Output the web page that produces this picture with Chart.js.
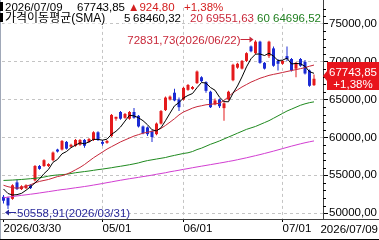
<!DOCTYPE html>
<html><head><meta charset="utf-8">
<script src="https://cdn.jsdelivr.net/npm/chart.js@4/dist/chart.umd.min.js"></script>
<style>html,body{margin:0;padding:0;background:#fff;overflow:hidden}canvas{display:block}</style>
</head><body>
<canvas id="c" width="379" height="240"></canvas>
<script>
// ---- data ----
const opens = [52160,52030,51900,54070,53180,53310,53690,54330,56230,56230,
56230,57000,58400,58400,59410,58780,58900,59030,59670,59410,
59670,60680,59410,59290,60180,62470,63360,62590,62470,63360,
62850,61450,61320,60810,60430,61830,63610,65010,65900,65010,
65010,66280,66410,67170,67940,67300,66030,64370,65010,63870,
65010,67550,69210,69080,70100,72010,71120,72640,69840,70730,
71750,70100,69720,70730,70350,69080,70350,69970,68830,66900];
const highs = [52420,52160,53820,54450,53690,53820,53820,56360,56360,57120,
56610,58140,58520,59670,59540,59160,59790,59790,59790,59920,
60810,60810,59670,59670,63100,62720,63480,63230,63480,63870,
62970,61580,61450,60940,61960,63610,65390,65520,66410,65260,
66660,67050,66790,68830,68060,67430,66150,65140,65140,64630,
66150,69720,69840,70230,71240,72130,72831.73,72770,69970,72770,
72010,70350,70230,72010,70480,69970,70480,70230,68950,68320];
const lows = [51270,50558.91,51780,53050,53050,53180,53180,54200,55720,56100,
56100,56870,58010,58270,58400,58650,58780,58900,58650,59290,
59540,59540,58900,59160,60050,62210,62340,62470,62340,62470,
61320,60430,60180,59410,60300,61700,63480,64880,64760,63480,
64880,66150,66280,67050,67300,65900,63870,64250,63870,62210,
64880,67430,69080,68950,69970,71240,70990,69720,68950,70480,
69330,68830,69590,70100,68700,67940,69330,68300,66700,66790];
const closes = [51650,51020,53690,53180,53560,53690,53310,56230,55850,57000,
56490,58010,58140,59540,58520,59030,59670,59670,58900,59790,
60680,59670,59160,59540,62970,62720,62470,63100,63360,62590,
61450,60560,60430,60050,61830,63480,65260,65390,64880,63990,
66540,66920,66660,68700,67430,66150,63990,64880,64120,64500,
66030,69590,69720,70100,71120,71370,72640,69840,69080,72640,
69460,69720,70100,70350,68830,69840,69460,68440,66819.05,67743.85];
const sma5 = [53200,52600,52400,52450,52620,53028,53486,53994,54528,55216,
55776,56716,57098,57836,58140,58648,58980,59286,59158,59412,
59742,59742,59640,59768,60404,60812,61372,62160,62924,62848,
62594,62212,61678,61016,60864,61270,62210,63202,64168,64600,
65212,65544,65798,66562,67250,67172,66586,66230,65314,64728,
64704,65824,66792,67988,69312,70380,70990,71014,70810,71114,
70732,70148,70200,70454,69692,69768,69716,69384,68678,68460.32];
const sma20 = [53690,53500,53370,53310,53370,53560,53750,54007,54198,54325,
54452,54643,54834,54961,55152,55406,55724,56042,56424,56869,
57314,57696,58077,58459,58780,59090,59410,59670,59920,60180,
60370,60560,60680,60810,60940,61190,61580,62020,62470,62970,
63360,63610,63870,64060,64180,64310,64370,64440,64500,64880,
65390,65900,66280,66660,66980,67300,67550,67810,68000,68190,
68320,68440,68570,68700,68830,68950,69080,69210,69400,69551.63];
const sma60 = [54325,54350,54376,54414,54452,54503,54554,54605,54681,54770,
54897,54986,55050,55088,55139,55241,55342,55419,55495,55571,
55660,55749,55826,55915,56004,56106,56195,56296,56398,56513,
56640,56805,56945,57047,57149,57250,57352,57505,57632,57759,
57886,57975,58141,58395,58586,58840,59095,59311,59540,59794,
60049,60303,60558,60812,61066,61257,61448,61702,61957,62211,
62529,62847,63165,63483,63738,63992,64246,64437,64590,64696.52];
const sma120 = [52035,52124,52201,52277,52353,52430,52506,52582,52671,52760,
52849,52938,53027,53116,53180,53269,53358,53434,53523,53612,
53714,53816,53918,54032,54134,54248,54350,54452,54554,54643,
54732,54834,54923,55024,55139,55241,55342,55470,55571,55673,
55788,55889,56004,56106,56207,56309,56411,56513,56614,56716,
56830,56932,57060,57187,57314,57454,57594,57734,57886,58039,
58192,58357,58522,58688,58853,59006,59158,59298,59426,59540];
const xTickIndex = [0, 22, 40, 62];
const xTickLabels = ['2026/03/30', '05/01', '06/01', '07/01'];
const lastDate = '2026/07/09';
const hiDate = '2026/06/22';
const loDate = '2026/03/31';
const yMajorTicks = [50000, 55000, 60000, 65000, 70000, 75000];
const yMinorTicks = [51000,52000,53000,54000,56000,57000,58000,59000,61000,62000,63000,64000,66000,67000,68000,69000,71000,72000,73000,74000,76000,77000];
const smaTitle = '가격이동평균(SMA)';
const smaPeriods = [5, 20, 60];

// ---- style ----
const FONT = '"Liberation Sans", "Noto Sans CJK KR", "DejaVu Sans", sans-serif';
const FS = 11.5;
const RED = '#e41a1c', BLUE = '#1b2bd4';
const C20 = '#c8283a', C60 = '#1f8a1f', C120 = '#d23ed2';
const GRID = '#c4c4c4';
const fmt = v => v.toFixed(2).replace('.', ',');
const candleColor = i => closes[i] >= opens[i] ? RED : BLUE;
const pts = arr => arr.map((v, i) => ({x: i, y: v}));

const deco = {
  id: 'deco',
  beforeDraw(chart) {
    const c = chart.ctx; c.save(); c.fillStyle = '#fff'; c.fillRect(0, 0, chart.width, chart.height); c.restore();
  },
  afterDraw(chart) {
    const c = chart.ctx, xs = chart.scales.x, ys = chart.scales.y, a = chart.chartArea;
    const W = chart.width, H = chart.height;
    const line = (x1, y1, x2, y2) => { c.beginPath(); c.moveTo(x1, y1); c.lineTo(x2, y2); c.stroke(); };
    c.save();
    c.lineWidth = 1;
    // frame
    c.strokeStyle = '#a0a8b8'; line(0.5, 0, 0.5, H);
    c.strokeStyle = '#404040';
    line(0, a.bottom + 0.5, W, a.bottom + 0.5);
    line(a.right + 0.5, 0, a.right + 0.5, a.bottom);
    c.strokeStyle = '#000'; line(0, H - 0.5, W, H - 0.5);
    // minor y ticks
    c.strokeStyle = '#000';
    yMinorTicks.forEach(v => {
      const y = Math.round(ys.getPixelForValue(v)) + 0.5;
      if (y > a.top && y < a.bottom) line(a.right, y, a.right + 3, y);
    });
    c.font = FS + 'px ' + FONT;
    c.textBaseline = 'alphabetic';
    // last date label under y axis
    c.fillStyle = '#000'; c.textAlign = 'right';
    c.fillText(lastDate, W - 1, 233);
    c.textAlign = 'left';
    const n = closes.length;
    const last = closes[n - 1], prev = closes[n - 2];
    const chg = last - prev, pct = chg / prev * 100;
    const txt = (s, x, y, col, bg) => {
      if (bg) { const w = c.measureText(s).width; c.fillStyle = '#fff'; c.fillRect(x - 1, y - 10, w + 2, 12); }
      c.fillStyle = col; c.fillText(s, x, y);
    };
    // legend line 1
    c.fillStyle = '#000'; c.fillRect(0, 2, 3, 9);
    txt(lastDate, 5, 10.5, '#000');
    txt(fmt(last), 77, 10.5, '#000');
    txt('▲' + fmt(chg), 128, 10.5, '#d42020');
    txt('+' + pct.toFixed(2).replace('.', ',') + '%', 184, 10.5, '#d42020');
    // legend line 2
    c.fillStyle = '#000'; c.fillRect(0, 13, 3, 9);
    c.font = '12px ' + FONT;
    txt(smaTitle, 5, 21.5, '#000', true);
    c.font = FS + 'px ' + FONT;
    txt(String(smaPeriods[0]), 124, 21.5, '#000', true);
    txt(fmt(sma5[n - 1]), 133, 21.5, '#000', true);
    txt(smaPeriods[1] + ' ' + fmt(sma20[n - 1]), 190, 21.5, C20, true);
    txt(smaPeriods[2] + ' ' + fmt(sma60[n - 1]), 257, 21.5, '#1f7f1f', true);
    // max annotation
    const hiV = Math.max(...highs), iHi = highs.indexOf(hiV);
    const hx = xs.getPixelForValue(iHi), hy = Math.round(ys.getPixelForValue(hiV)) - 0.5;
    c.strokeStyle = C20; c.fillStyle = C20;
    line(hx - 15, hy, hx - 4, hy);
    c.beginPath(); c.moveTo(hx - 2, hy); c.lineTo(hx - 6, hy - 3); c.lineTo(hx - 6, hy + 3); c.closePath(); c.fill();
    c.textAlign = 'right';
    txt(fmt(hiV) + '(' + hiDate + ')', hx - 15, hy + 4, C20);
    c.textAlign = 'left';
    // min annotation
    const loV = Math.min(...lows), iLo = lows.indexOf(loV);
    const lx = xs.getPixelForValue(iLo), ly = Math.round(ys.getPixelForValue(loV)) + 3.5;
    const LC = '#2a2a9c';
    c.strokeStyle = LC; c.fillStyle = LC;
    line(lx - 1, ly, lx + 8, ly);
    c.beginPath(); c.moveTo(lx - 3, ly); c.lineTo(lx + 1, ly - 3); c.lineTo(lx + 1, ly + 3); c.closePath(); c.fill();
    txt(fmt(loV) + '(' + loDate + ')', lx + 9, ly + 4.5, LC);
    // price tag
    const yc = ys.getPixelForValue(last);
    const mid = Math.round(yc - 2.5);
    c.fillStyle = '#e8141c';
    c.beginPath();
    c.moveTo(a.right, mid); c.lineTo(a.right + 4, mid - 5); c.lineTo(a.right + 4, mid - 14);
    c.lineTo(W, mid - 14); c.lineTo(W, mid + 14); c.lineTo(a.right + 4, mid + 14); c.lineTo(a.right + 4, mid + 5);
    c.closePath(); c.fill();
    c.fillStyle = '#fff'; c.textAlign = 'center';
    c.fillText(fmt(last), 353, mid - 0.5);
    c.fillText('+' + pct.toFixed(2).replace('.', ',') + '%', 353, mid + 11.5);
    c.restore();
  }
};

new Chart(document.getElementById('c'), {
  type: 'bar',
  data: {
    datasets: [
      {type: 'line', label: 'SMA5', data: pts(sma5), borderColor: '#000', borderWidth: 1, pointRadius: 0, tension: 0, order: 0},
      {type: 'line', label: 'SMA20', data: pts(sma20), borderColor: C20, borderWidth: 1, pointRadius: 0, tension: 0, order: 1},
      {type: 'line', label: 'SMA60', data: pts(sma60), borderColor: C60, borderWidth: 1, pointRadius: 0, tension: 0, order: 1},
      {type: 'line', label: 'SMA120', data: pts(sma120), borderColor: C120, borderWidth: 1, pointRadius: 0, tension: 0, order: 1},
      {type: 'bar', label: 'wick', data: lows.map((l, i) => ({x: i, y: [l, highs[i]]})),
        backgroundColor: ctx => candleColor(ctx.dataIndex), barThickness: 1, grouped: false, borderWidth: 0, inflateAmount: 0, order: 3},
      {type: 'bar', label: 'body', data: opens.map((o, i) => ({x: i, y: [o, closes[i]]})),
        backgroundColor: ctx => candleColor(ctx.dataIndex), barThickness: 3, minBarLength: 1, grouped: false, borderWidth: 0, inflateAmount: 0, order: 2}
    ]
  },
  options: {
    responsive: false, animation: false, events: [], devicePixelRatio: 1,
    layout: {padding: {left: 2, top: 0, right: 0, bottom: 0}},
    plugins: {legend: {display: false}, tooltip: {enabled: false}},
    scales: {
      x: {
        type: 'linear', min: -0.3333, max: 71, offset: false,
        afterFit: s => { s.height = 21; },
        afterBuildTicks: s => { s.ticks = xTickIndex.map(v => ({value: v})); },
        ticks: {
          callback: v => { const k = xTickIndex.indexOf(v); return k >= 0 ? xTickLabels[k] : ''; },
          align: 'start', maxRotation: 0, minRotation: 0, autoSkip: false, padding: 0,
          color: '#000', font: {family: FONT, size: FS}
        },
        grid: {offset: false, color: ctx => (ctx.tick && ctx.tick.value === 0) ? 'rgba(0,0,0,0)' : GRID,
          lineWidth: 1, tickLength: 3, tickColor: '#000'},
        border: {display: false, dash: [3, 3]}
      },
      y: {
        type: 'linear', position: 'right', min: 49237, max: 77094,
        afterFit: s => { s.width = 56; },
        afterBuildTicks: s => { s.ticks = yMajorTicks.map(v => ({value: v})); },
        ticks: {callback: v => fmt(v), padding: 1, autoSkip: false, color: '#000', font: {family: FONT, size: FS}},
        grid: {color: GRID, lineWidth: 1, tickLength: 5, tickColor: '#000'},
        border: {display: false, dash: [3, 3]}
      }
    }
  },
  plugins: [deco]
});
</script>
</body></html>
